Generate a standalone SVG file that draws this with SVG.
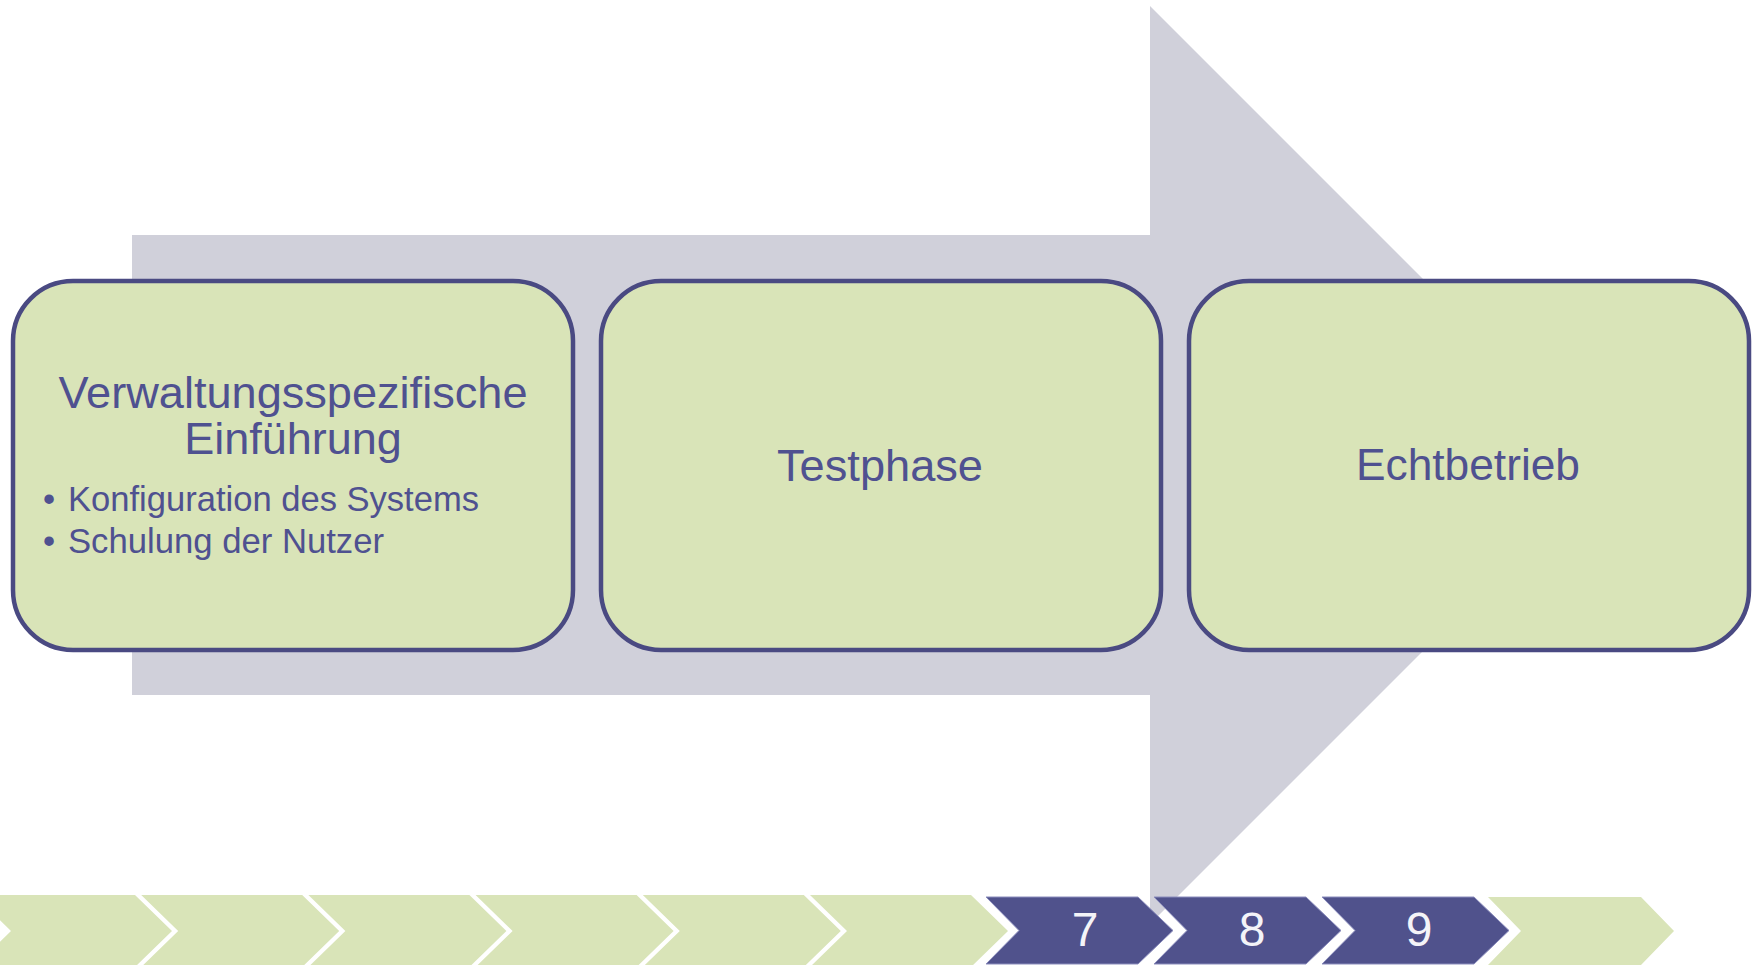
<svg xmlns="http://www.w3.org/2000/svg" width="1756" height="965" viewBox="0 0 1756 965">
<style>
.box{fill:#d9e4b8;stroke:#4a4a82;stroke-width:4.5}
.title{font-family:"Liberation Sans",Arial,sans-serif;font-size:45px;fill:#4f5190;text-anchor:middle}
.bul{font-family:"Liberation Sans",Arial,sans-serif;font-size:34.5px;fill:#4f5190}
.g{fill:#d9e4b8}
.p{fill:#50528c;stroke:#8a8cbc;stroke-width:1}
.num{font-family:"Liberation Sans",Arial,sans-serif;font-size:48px;fill:#f4f4f8;text-anchor:middle}
</style>
<rect width="1756" height="965" fill="#ffffff"/>
<g id="big-arrow">
<polygon points="132,235 1150,235 1150,6 1609,465 1150,924 1150,695 132,695" fill="#d0d0da"/>
</g>
<g id="connectors"></g>
<g id="node-1">
<rect class="box" x="13" y="281" width="560" height="369" rx="60" ry="60"/>
<text class="title" x="293" y="408" textLength="469" lengthAdjust="spacingAndGlyphs">Verwaltungsspezifische</text>
<text class="title" x="293" y="454">Einführung</text>
<text class="bul" x="43" y="511">•</text>
<text class="bul" x="68" y="511" textLength="411" lengthAdjust="spacingAndGlyphs">Konfiguration des Systems</text>
<text class="bul" x="43" y="553">•</text>
<text class="bul" x="68" y="553" textLength="316" lengthAdjust="spacingAndGlyphs">Schulung der Nutzer</text>
</g>
<g id="node-2">
<rect class="box" x="601" y="281" width="560" height="369" rx="60" ry="60"/>
<text class="title" x="880" y="481" textLength="206" lengthAdjust="spacingAndGlyphs">Testphase</text>
</g>
<g id="node-3">
<rect class="box" x="1189" y="281" width="560" height="369" rx="60" ry="60"/>
<text class="title" x="1468" y="480" textLength="224" lengthAdjust="spacingAndGlyphs">Echtbetrieb</text>
</g>
<g id="timeline">
<polygon class="g" points="-26,895 135,895 172,931 135,967 -26,967 11,931"/>
<polygon class="g" points="141.2,895 302.2,895 339.2,931 302.2,967 141.2,967 178.2,931"/>
<polygon class="g" points="308.4,895 469.4,895 506.4,931 469.4,967 308.4,967 345.4,931"/>
<polygon class="g" points="475.6,895 636.6,895 673.6,931 636.6,967 475.6,967 512.6,931"/>
<polygon class="g" points="642.8,895 803.8,895 840.8,931 803.8,967 642.8,967 679.8,931"/>
<polygon class="g" points="810,895 971,895 1008,931 971,967 810,967 847,931"/>
<polygon class="p" points="986,897 1138,897 1173,930.5 1138,964 986,964 1019,930.5"/>
<polygon class="p" points="1154,897 1306,897 1341,930.5 1306,964 1154,964 1187,930.5"/>
<polygon class="p" points="1322,897 1474,897 1509,930.5 1474,964 1322,964 1355,930.5"/>
<polygon class="g" points="1488,897 1641,897 1674,931 1641,965 1488,965 1521,931"/>
<text class="num" x="1085" y="946">7</text>
<text class="num" x="1252" y="946">8</text>
<text class="num" x="1419" y="946">9</text>
</g>
</svg>
